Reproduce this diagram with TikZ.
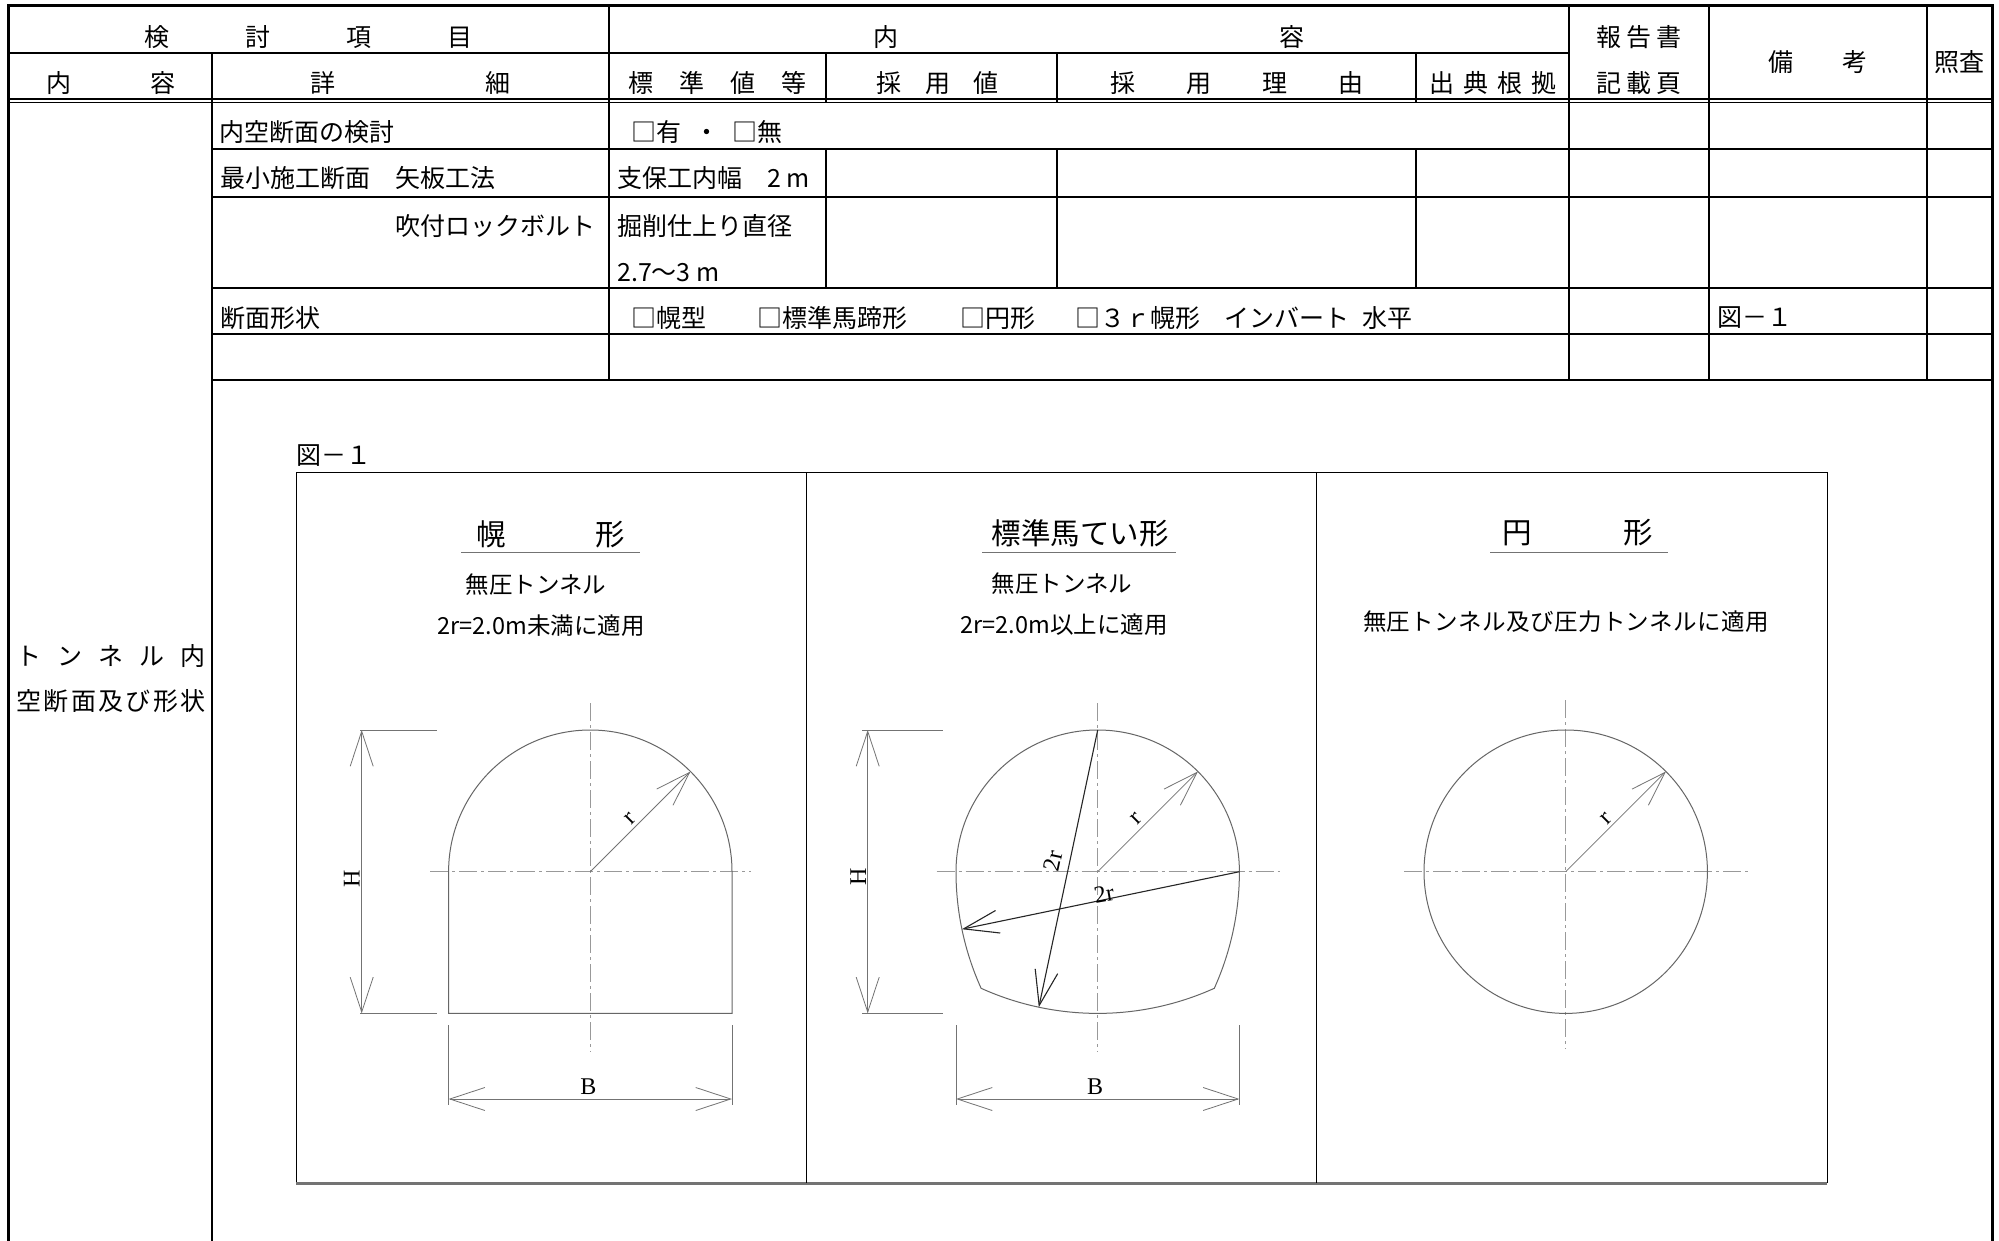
\documentclass[tikz,border=0pt]{standalone}
\usepackage{fontspec}
\setmainfont{Liberation Serif}
\newfontfamily\jp{Noto Sans CJK JP}
\usetikzlibrary{arrows.meta}
\makeatletter
\def\jspreadaux#1{\ifx#1\relax\else\kern\jspreadkern\relax#1\expandafter\jspreadaux\fi}
\newcommand\jspread[2]{\def\jspreadkern{#1}\jspreadfirst#2\relax}
\def\jspreadfirst#1{#1\jspreadaux}
\makeatother
\tikzset{
  tabln/.style={line width=1.2pt, draw=black},
  jtx/.style={font=\jp\fontsize{25}{30}\selectfont, inner sep=0pt},
  jtw/.style={jtx, anchor=west},
  figtx/.style={font=\jp\fontsize{23.5}{28}\selectfont, inner sep=0pt},
  ttlx/.style={font=\jp\fontsize{29.5}{34}\selectfont, inner sep=0pt},
  latx/.style={font=\fontsize{24}{28}\selectfont, inner sep=0pt},
  tunnel/.style={line width=1pt, draw=black!60},
  cenln/.style={line width=0.9pt, draw=black!40, dash pattern=on 18pt off 4pt on 3pt off 4pt},
  dimln/.style={line width=0.8pt, draw=black!55},
  radln/.style={line width=1.1pt, draw=black!85},
  >={Straight Barb[length=35pt,width=23pt]}
}
\begin{document}
\begin{tikzpicture}[x=1pt,y=-1pt]
\useasboundingbox (0,0) rectangle (1999,1241);
\fill[white] (0,0) rectangle (1999,1241);
% ---------------- table ----------------
\draw[line width=3.5pt, line join=miter] (8.3,1241) -- (8.3,5.5) -- (1992.6,5.5) -- (1992.6,1241);
\draw[tabln] (8,53) -- (1569,53);
\draw[tabln] (8,99) -- (1992,99);
\draw[tabln] (8,102.5) -- (1992,102.5);
\foreach \yy in {149,197,288,334,380} \draw[tabln] (212,\yy) -- (1992,\yy);
\draw[tabln] (212,53) -- (212,1241);
\foreach \xx in {609,1569,1709,1927} \draw[tabln] (\xx,5) -- (\xx,380);
\foreach \xx in {826,1057,1416} {
  \draw[tabln] (\xx,53) -- (\xx,102.5);
  \draw[tabln] (\xx,149) -- (\xx,288);
}
% header texts
\node[jtx] (hA) at (308.5,37) {\jspread{76pt}{検討項目}};
\node[jtx] (hB) at (1089,37) {\jspread{381pt}{内容}};
\node[jtx] (hC) at (1639,37) {\jspread{5pt}{報告書}};
\node[jtx] (hD) at (110.6,83) {\jspread{79pt}{内容}};
\node[jtx] (hE) at (410,83) {\jspread{150pt}{詳細}};
\node[jtx] (hF) at (717.5,83) {\jspread{26pt}{標準値等}};
\node[jtx] (hG) at (937.5,83) {\jspread{23.5pt}{採用値}};
\node[jtx] (hH) at (1236.5,83) {\jspread{51pt}{採用理由}};
\node[jtx] (hI) at (1492.5,83) {\jspread{9pt}{出典根拠}};
\node[jtx] (hJ) at (1639,83) {\jspread{5pt}{記載頁}};
\node[jtx] (hK) at (1818,62) {\jspread{49pt}{備考}};
\node[jtx] (hL) at (1959.5,62) {照査};
% body texts
\node[jtw] (b1) at (219,132) {内空断面の検討};
\node[jtw] (b2) at (631,132) {□有\hspace{13pt}・\hspace{13pt}□無};
\node[jtw] (b3) at (220,178) {最小施工断面　矢板工法};
\node[jtw] (b4) at (617,178) {支保工内幅　2 m};
\node[jtx, anchor=east] (b5) at (596,226) {吹付ロックボルト};
\node[jtw] (b6) at (617,226) {掘削仕上り直径};
\node[jtw] (b7) at (617,273) {2.7〜3 m};
\node[jtw] (b8) at (220,318) {断面形状};
\node[jtw] (c1) at (631,318) {□幌型};
\node[jtw] (c2) at (757,318) {□標準馬蹄形};
\node[jtw] (c3) at (960,318) {□円形};
\node[jtw] (c4) at (1075,318) {□３ｒ幌形};
\node[jtw] (c5) at (1224,318) {インバート};
\node[jtw] (c6) at (1362,318) {水平};
\node[jtw] (c7) at (1717,318) {図－１};
\node[jtx] (l1) at (111,656) {\jspread{16pt}{トンネル内}};
\node[jtx] (l2) at (111,701) {\jspread{2.4pt}{空断面及び形状}};
% ---------------- figure ----------------
\node[jtw] (figlbl) at (296,456) {図－１};
\draw[line width=1pt] (296,1183) -- (296,472) -- (1827,472) -- (1827,1183);
\draw[line width=3pt, draw=black!55] (296,1183.5) -- (1827,1183.5);
\draw[line width=1pt] (806,472) -- (806,1183);
\draw[line width=1pt] (1316,472) -- (1316,1183);
% titles
\node[ttlx] (t1) at (550.5,534) {\jspread{89.5pt}{幌形}};
\node[ttlx] (t2) at (1080,533) {標準馬てい形};
\node[ttlx] (t3) at (1577.5,533) {\jspread{91pt}{円形}};
\draw[line width=1pt, draw=black!55] (461,552.7) -- (640,552.7);
\draw[line width=1pt, draw=black!55] (982,552.7) -- (1176,552.7);
\draw[line width=1pt, draw=black!55] (1490,552.7) -- (1668,552.7);
\node[figtx] (s1) at (536,585) {無圧トンネル};
\node[figtx] (s2) at (541,626) {2r=2.0m未満に適用};
\node[figtx] (s3) at (1062,584) {無圧トンネル};
\node[figtx] (s4) at (1064,625) {2r=2.0m以上に適用};
\node[figtx] (s5) at (1566,622) {\jspread{0.4pt}{無圧トンネル及び圧力トンネルに適用}};
% ---- panel 1 : horseshoe-top (幌形)
\coordinate (O1) at (590.3,871.7);
\coordinate (R1) at (690.5,771.5);
\draw[cenln] (590.3,703.3) -- (590.3,1051.7);
\draw[cenln] (430,871.7) -- (750.7,871.7);
\draw[tunnel] (448.6,1013.4) -- (448.6,871.7) arc[start angle=180, end angle=360, radius=141.7] -- (732,1013.4) -- cycle;
\draw[dimln,->] (O1) -- (R1);
\node[latx, rotate=45] (r1) at (630,818.3) {r};
\coordinate (H1t) at (361.7,730); \coordinate (H1b) at (361.7,1013.4);
\draw[dimln] (360,730) -- (436.7,730);
\draw[dimln] (360,1013.4) -- (436.7,1013.4);
\draw[dimln,<->] (H1t) -- (H1b);
\node[latx, rotate=90] (hl1) at (351.7,879) {H};
\coordinate (B1l) at (448.6,1099); \coordinate (B1r) at (732,1099);
\draw[dimln] (448.6,1025) -- (448.6,1105);
\draw[dimln] (732,1025) -- (732,1105);
\draw[dimln,<->] (B1l) -- (B1r);
\node[latx] (bl1) at (588.3,1086.7) {B};
% ---- panel 2 : standard horseshoe
\coordinate (O2) at (1097.7,871.7);
\coordinate (R2) at (1197.9,771.5);
\coordinate (C2) at (1097.7,730);
\coordinate (I2) at (1038.8,1007.2);
\coordinate (A2) at (1239.4,871.7);
\coordinate (S2) at (961.9,929.2);
\draw[cenln] (1097.7,703.3) -- (1097.7,1051.7);
\draw[cenln] (936.7,871.7) -- (1280,871.7);
\draw[tunnel] (956,871.7) arc[start angle=180, end angle=360, radius=141.7]
   arc[start angle=0, end angle=24.295, radius=283.4]
   arc[start angle=65.705, end angle=114.295, radius=283.4]
   arc[start angle=155.705, end angle=180, radius=283.4] -- cycle;
\draw[dimln,->] (O2) -- (R2);
\node[latx, rotate=45] (r2) at (1136.7,818.3) {r};
\draw[radln,->] (C2) -- (I2);
\draw[radln,->] (A2) -- (S2);
\node[latx, rotate=78] (d1) at (1053,861) {2r};
\node[latx, rotate=10] (d2) at (1104,894) {2r};
\coordinate (H2t) at (867.7,730); \coordinate (H2b) at (867.7,1013.4);
\draw[dimln] (862,730) -- (943.3,730);
\draw[dimln] (862,1013.4) -- (943.3,1013.4);
\draw[dimln,<->] (H2t) -- (H2b);
\node[latx, rotate=90] (hl2) at (858.3,876.7) {H};
\coordinate (B2l) at (956,1099); \coordinate (B2r) at (1239.4,1099);
\draw[dimln] (956,1025) -- (956,1105);
\draw[dimln] (1239.4,1025) -- (1239.4,1105);
\draw[dimln,<->] (B2l) -- (B2r);
\node[latx] (bl2) at (1095,1087) {B};
% ---- panel 3 : circle
\coordinate (O3) at (1565.7,871.7);
\coordinate (R3) at (1665.9,771.5);
\draw[cenln] (1565.7,700) -- (1565.7,1049);
\draw[cenln] (1404,871.7) -- (1750,871.7);
\draw[tunnel] (O3) circle[radius=141.7];
\draw[dimln,->] (O3) -- (R3);
\node[latx, rotate=45] (r3) at (1606,819) {r};
\end{tikzpicture}
\end{document}
